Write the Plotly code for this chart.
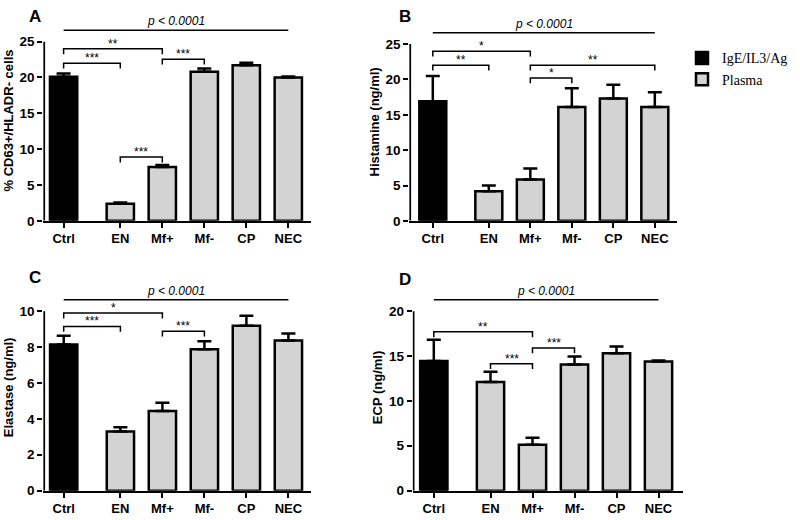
import plotly.graph_objects as go

# ---------------- data ----------------
categories = ["Ctrl", "EN", "Mf+", "Mf-", "CP", "NEC"]
xpos = [0, 1.35, 2.35, 3.35, 4.35, 5.35]

cd63_mean = [20.1, 2.4, 7.5, 20.8, 21.7, 20.0]
cd63_err = [0.45, 0.15, 0.3, 0.45, 0.35, 0.15]

histamine_mean = [16.9, 4.2, 5.85, 16.1, 17.3, 16.1]
histamine_err = [3.6, 0.8, 1.55, 2.65, 1.95, 2.1]

elastase_mean = [8.14, 3.29, 4.44, 7.88, 9.18, 8.37]
elastase_err = [0.49, 0.24, 0.46, 0.44, 0.56, 0.38]

ecp_mean = [14.45, 12.1, 5.1, 14.05, 15.3, 14.4]
ecp_err = [2.35, 1.15, 0.8, 0.9, 0.75, 0.1]

# brackets: (from index, to index, height, label)
cd63_brackets = [(0, 2, 24.0, "**"), (0, 1, 22.0, "***"), (2, 3, 22.55, "***"), (1, 2, 8.9, "***")]
histamine_brackets = [(0, 2, 24.0, "*"), (0, 1, 22.0, "**"), (2, 5, 22.0, "**"), (2, 3, 20.2, "*")]
elastase_brackets = [(0, 2, 9.89, "*"), (0, 1, 9.15, "***"), (2, 3, 8.88, "***")]
ecp_brackets = [(0, 2, 17.7, "**"), (1, 2, 14.15, "***"), (2, 3, 15.9, "***")]

p_text = "p < 0.0001"
legend_names = ["IgE/IL3/Ag", "Plasma"]

# ---------------- layout geometry (pixels) ----------------
W, H = 800, 520
panels = [
    dict(label="A", mean=cd63_mean, err=cd63_err, brackets=cd63_brackets, drop=0.75,
         pline=26.6, ytitle="% CD63+/HLADR- cells", yticks=[0, 5, 10, 15, 20, 25], ymax=28,
         L=43.3, R=311, c0=63.6, u=42, y0=224.3, ytop=42.3, lab_xy=(27, 5)),
    dict(label="B", mean=histamine_mean, err=histamine_err, brackets=histamine_brackets, drop=0.75,
         pline=26.6, ytitle="Histamine (ng/ml)", yticks=[0, 5, 10, 15, 20, 25], ymax=28,
         L=409.3, R=677, c0=432.8, u=41.5, y0=224.3, ytop=44.8, lab_xy=(397, 5)),
    dict(label="C", mean=elastase_mean, err=elastase_err, brackets=elastase_brackets, drop=0.3,
         pline=10.64, ytitle="Elastase (ng/ml)", yticks=[0, 2, 4, 6, 8, 10], ymax=11.5,
         L=43.3, R=311, c0=63.7, u=42, y0=498.3, ytop=316, lab_xy=(27, 270)),
    dict(label="D", mean=ecp_mean, err=ecp_err, brackets=ecp_brackets, drop=0.6,
         pline=21.27, ytitle="ECP (ng/ml)", yticks=[0, 5, 10, 15, 20], ymax=23,
         L=412.7, R=683, c0=433.8, u=42, y0=498.3, ytop=316, lab_xy=(397, 272)),
]

SANS = "Liberation Sans, Arial, sans-serif"
BLACK = "black"
GRAY = "#d3d3d3"

fig = go.Figure()
annotations = []

for k, p in enumerate(panels):
    n = "" if k == 0 else str(k + 1)
    xa, ya = "x" + n, "y" + n
    xr = [(p["L"] - p["c0"]) / p["u"], (p["R"] - p["c0"]) / p["u"]]
    topval = p["yticks"][-1]
    ppu = (p["y0"] - p["ytop"]) / topval
    ytop_px = p["y0"] - p["ymax"] * ppu

    # bars
    for idx_list, color, name in [([0], BLACK, legend_names[0]),
                                   ([1, 2, 3, 4, 5], GRAY, legend_names[1])]:
        fig.add_trace(go.Bar(
            x=[xpos[i] for i in idx_list],
            y=[p["mean"][i] for i in idx_list],
            width=0.65,
            marker=dict(color=color, line=dict(color=BLACK, width=2.5)),
            error_y=dict(type="data", symmetric=False,
                         array=[p["err"][i] for i in idx_list],
                         arrayminus=[0] * len(idx_list),
                         color=BLACK, thickness=2.5, width=7),
            name=name, showlegend=(k == 0), legendgroup=name,
            xaxis=xa, yaxis=ya, hoverinfo="skip"))

    # y axis line (stops at top tick)
    xl = xr[0] + 0.8 / p["u"]
    fig.add_trace(go.Scatter(x=[xl, xl], y=[0, topval], mode="lines",
                             line=dict(color=BLACK, width=2), showlegend=False,
                             hoverinfo="skip", xaxis=xa, yaxis=ya))

    # overall p line
    fig.add_trace(go.Scatter(x=[xpos[0], xpos[5]], y=[p["pline"], p["pline"]], mode="lines",
                             line=dict(color=BLACK, width=1.5), showlegend=False,
                             hoverinfo="skip", xaxis=xa, yaxis=ya))
    annotations.append(dict(x=(xpos[0] + xpos[5]) / 2, y=p["pline"], xref=xa, yref=ya,
                            text=p_text, showarrow=False, yanchor="bottom", yshift=0,
                            font=dict(family=SANS, size=12, color=BLACK, style="italic")))

    # brackets
    for (i, j, hgt, lab) in p["brackets"]:
        d = p["drop"]
        fig.add_trace(go.Scatter(x=[xpos[i], xpos[i], xpos[j], xpos[j]],
                                 y=[hgt - d, hgt, hgt, hgt - d], mode="lines",
                                 line=dict(color=BLACK, width=1.5), showlegend=False,
                                 hoverinfo="skip", xaxis=xa, yaxis=ya))
        annotations.append(dict(x=(xpos[i] + xpos[j]) / 2, y=hgt, xref=xa, yref=ya,
                                text=lab, showarrow=False, yanchor="bottom", yshift=-4,
                                font=dict(family=SANS, size=12, color=BLACK)))

    # panel letter
    annotations.append(dict(x=p["lab_xy"][0] / W, y=1 - p["lab_xy"][1] / H, xref="paper",
                            yref="paper", text="<b>%s</b>" % p["label"], showarrow=False,
                            xanchor="left", yanchor="top",
                            font=dict(family=SANS, size=17, color=BLACK)))

    fig.update_layout(**{
        "xaxis" + n: dict(domain=[p["L"] / W, p["R"] / W], range=xr, anchor=ya,
                          showline=True, linecolor=BLACK, linewidth=2,
                          ticks="outside", ticklen=5, tickwidth=2, tickcolor=BLACK,
                          tickvals=xpos, ticktext=categories, showgrid=False, zeroline=False,
                          tickfont=dict(family=SANS, size=13, color=BLACK, weight="bold"),
                          fixedrange=True),
        "yaxis" + n: dict(domain=[1 - p["y0"] / H, 1 - ytop_px / H], range=[0, p["ymax"]],
                          anchor=xa, showline=False, ticks="outside", ticklen=5, tickwidth=2,
                          tickcolor=BLACK, tickvals=p["yticks"], showgrid=False,
                          zeroline=False,
                          tickfont=dict(family=SANS, size=13.5, color=BLACK, weight="bold"),
                          title=dict(text=p["ytitle"], standoff=3,
                                     font=dict(family=SANS, size=13, color=BLACK,
                                               weight="bold")),
                          fixedrange=True),
    })

fig.update_layout(
    width=W, height=H, autosize=False,
    margin=dict(l=0, r=0, t=0, b=0),
    paper_bgcolor="white", plot_bgcolor="white",
    barmode="overlay",
    annotations=annotations,
    legend=dict(x=682 / W, y=1 - 43 / H, xanchor="left", yanchor="top",
                font=dict(family="Liberation Serif, Times New Roman, serif", size=14,
                          color=BLACK),
                bgcolor="rgba(0,0,0,0)", tracegroupgap=0),
    showlegend=True,
)

fig.write_html("out.html", config={"displayModeBar": False},
               post_script="document.body.style.margin='0';")
